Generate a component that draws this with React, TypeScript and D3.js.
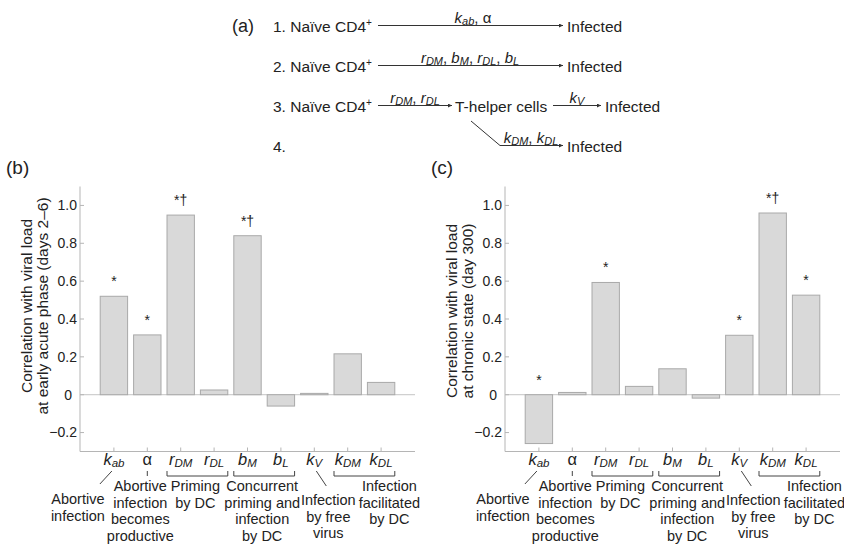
import React from 'react';
import * as d3 from 'd3';

// Parameters on the x axis (symbol + subscript)
const categories = ['kab', 'alpha', 'rDM', 'rDL', 'bM', 'bL', 'kV', 'kDM', 'kDL'];
const categorySymbols: [string, string][] = [
  ['k', 'ab'], ['α', ''], ['r', 'DM'], ['r', 'DL'], ['b', 'M'], ['b', 'L'], ['k', 'V'], ['k', 'DM'], ['k', 'DL'],
];

// (b) early acute phase, (c) chronic state
const acuteValues = [0.52, 0.316, 0.949, 0.025, 0.84, -0.06, 0.007, 0.216, 0.065];
const chronicValues = [-0.258, 0.012, 0.593, 0.044, 0.137, -0.018, 0.314, 0.96, 0.526];
const acuteMarks = ['*', '*', '*†', '', '*†', '', '', '', ''];
const chronicMarks = ['*', '', '*', '', '', '', '*', '*†', '*'];

const yTicks = [-0.2, 0, 0.2, 0.4, 0.6, 0.8, 1.0];
const acuteTitle = ['Correlation with viral load', 'at early acute phase (days 2–6)'];
const chronicTitle = ['Correlation with viral load', 'at chronic state (day 300)'];

const mechanismLabels = [
  ['Abortive', 'infection'],
  ['Abortive', 'infection', 'becomes', 'productive'],
  ['Priming', 'by DC'],
  ['Concurrent', 'priming and', 'infection', 'by DC'],
  ['Infection', 'by free', 'virus'],
  ['Infection', 'facilitated', 'by DC'],
];
const mechanismCats = [['kab'], ['alpha'], ['rDM', 'rDL'], ['bM', 'bL'], ['kV'], ['kDM', 'kDL']];

// layout for the mechanism labels (offset from group centre, first baseline)
const mechanismLayout = [
  { dx: -36, y: 504 },
  { dx: -7, y: 491 },
  { dx: -2, y: 491 },
  { dx: -2, y: 491 },
  { dx: 14, y: 505 },
  { dx: 25, y: 491 },
];

const FONT = '"Liberation Sans", Arial, Helvetica, sans-serif';
const INK = '#222';

type Tok = { t: string; it?: boolean; sub?: boolean };

// render tokens with italic/subscript pieces as tspans
function toTspans(tokens: Tok[], subSize: number, shift = 2.5) {
  let cur = 0;
  return tokens.map((tk, i) => {
    const want = tk.sub ? shift : 0;
    const dy = want - cur;
    cur = want;
    return (
      <tspan key={i} dy={dy || undefined} fontStyle={tk.it ? 'italic' : 'normal'} fontSize={tk.sub ? subSize : undefined}>
        {tk.t}
      </tspan>
    );
  });
}

function sym(main: string, sub: string): Tok[] {
  const out: Tok[] = [{ t: main, it: main !== 'α' }];
  if (sub) out.push({ t: sub, it: true, sub: true });
  return out;
}

function Panel({ x0, letter, values, marks, title, titleY }: {
  x0: number; letter: string; values: number[]; marks: string[]; title: string[]; titleY: number;
}) {
  const left = x0 + 80;
  const right = x0 + 415;
  const top = 186.5;
  const bottom = 451.5;

  const x = d3.scaleBand<string>().domain(categories).range([left, right])
    .paddingInner(0.18).paddingOuter(0.605).align(0.5);
  const y = d3.scaleLinear().domain([-0.3, 1.1]).range([bottom, top]);
  const bw = x.bandwidth();
  const cx = (c: string) => (x(c) as number) + bw / 2;

  return (
    <g>
      <text x={x0 + 6} y={174} fontSize={19} fill={INK}>{letter}</text>

      {/* y title */}
      {title.map((line, i) => (
        <text key={i} transform={`translate(${left - 48 + i * 16},${titleY}) rotate(-90)`}
          textAnchor="middle" fontSize={15.5} fill={INK}>{line}</text>
      ))}

      {/* axes */}
      <line x1={left} x2={left} y1={top} y2={bottom} stroke="#b5b5b5" />
      <line x1={left} x2={right} y1={bottom} y2={bottom} stroke="#b5b5b5" />
      <line x1={left} x2={right} y1={y(0)} y2={y(0)} stroke="#c4c4c4" />
      {yTicks.map(t => (
        <g key={t}>
          <line x1={left} x2={left + 4} y1={y(t)} y2={y(t)} stroke="#b5b5b5" />
          <text x={t === 0 ? left - 8 : left - 3} y={y(t)} dy="0.35em" textAnchor="end" fontSize={14} fill={INK}>
            {t === 0 ? '0' : t < 0 ? `−${Math.abs(t).toFixed(1)}` : t.toFixed(1)}
          </text>
        </g>
      ))}
      {categories.map(c => (
        <line key={c} x1={cx(c)} x2={cx(c)} y1={bottom} y2={bottom - 4} stroke="#b5b5b5" />
      ))}

      {/* bars */}
      {categories.map((c, i) => {
        const v = values[i];
        return (
          <rect key={c} x={x(c)} width={bw} y={y(Math.max(v, 0))}
            height={Math.abs(y(v) - y(0))} fill="#d9d9d9" stroke="#a9a9a9" strokeWidth={1} />
        );
      })}
      {categories.map((c, i) => marks[i] ? (
        <text key={c} x={cx(c)} y={y(Math.max(values[i], 0)) - 10} textAnchor="middle" fontSize={14} fill={INK}>
          {marks[i]}
        </text>
      ) : null)}

      {/* category symbols */}
      {categories.map((c, i) => (
        <text key={c} x={cx(c)} y={465} textAnchor="middle" fontSize={16.5} fill={INK}>
          {toTspans(sym(categorySymbols[i][0], categorySymbols[i][1]), 11.5, 2)}
        </text>
      ))}

      {/* connectors */}
      {mechanismCats.map((cats, i) => {
        if (cats.length === 2) {
          const a = x(cats[0]) as number;
          const b = (x(cats[1]) as number) + bw;
          return <path key={i} d={`M${a},471V476H${b}V471`} fill="none" stroke="#444" strokeWidth={1} />;
        }
        const c = cx(cats[0]);
        if (cats[0] === 'alpha') return <line key={i} x1={c} x2={c} y1={471} y2={476} stroke="#444" />;
        if (cats[0] === 'kab') return <line key={i} x1={c - 2} x2={c - 14} y1={471} y2={484} stroke="#444" />;
        return <line key={i} x1={c + 2} x2={c + 12} y1={471} y2={486} stroke="#444" />;
      })}

      {/* mechanism labels */}
      {mechanismLabels.map((lines, i) => {
        const cats = mechanismCats[i];
        const a = x(cats[0]) as number;
        const b = (x(cats[cats.length - 1]) as number) + bw;
        const mid = (a + b) / 2 + mechanismLayout[i].dx;
        return (
          <text key={i} textAnchor="middle" fontSize={14.5} fill={INK}>
            {lines.map((l, j) => (
              <tspan key={j} x={mid} y={mechanismLayout[i].y + j * 16.5}>{l}</tspan>
            ))}
          </text>
        );
      })}
    </g>
  );
}

function Arrow({ d }: { d: string }) {
  return <path d={d} fill="none" stroke="#333" strokeWidth={1} markerEnd="url(#head)" />;
}

function Schema() {
  const rows = [31.5, 71.5, 111.5, 151.5];
  const fs = 15.5;
  const naive = (n: number, yb: number) => (
    <text x={273} y={yb} fontSize={fs} fill={INK}>
      {`${n}. Naïve CD4`}
      <tspan dy={-6} fontSize={10}>+</tspan>
    </text>
  );
  const label = (cxp: number, yb: number, toks: Tok[]) => (
    <text x={cxp} y={yb} textAnchor="middle" fontSize={15} fill={INK}>{toTspans(toks, 11, 2.5)}</text>
  );
  const infected = (xp: number, yb: number) => (
    <text x={xp} y={yb} fontSize={fs} fill={INK}>Infected</text>
  );
  const sep: Tok = { t: ', ' };
  return (
    <g>
      <text x={232} y={32} fontSize={18} fill={INK}>(a)</text>

      {naive(1, rows[0])}
      <Arrow d={`M378,${rows[0] - 6}H563`} />
      {label(473, rows[0] - 9, [...sym('k', 'ab'), sep, { t: 'α' }])}
      {infected(567, rows[0])}

      {naive(2, rows[1])}
      <Arrow d={`M378,${rows[1] - 6}H563`} />
      {label(470, rows[1] - 9, [...sym('r', 'DM'), sep, ...sym('b', 'M'), sep, ...sym('r', 'DL'), sep, ...sym('b', 'L')])}
      {infected(567, rows[1])}

      {naive(3, rows[2])}
      <Arrow d={`M378,${rows[2] - 6}H452`} />
      {label(415, rows[2] - 9, [...sym('r', 'DM'), sep, ...sym('r', 'DL')])}
      <text x={455} y={rows[2]} fontSize={fs} fill={INK}>T-helper cells</text>
      <Arrow d={`M553,${rows[2] - 6}H601`} />
      {label(577, rows[2] - 9, sym('k', 'V'))}
      {infected(605, rows[2])}

      <text x={273} y={rows[3]} fontSize={fs} fill={INK}>4.</text>
      <Arrow d={`M471,121L500,${rows[3] - 6}H563`} />
      {label(531, rows[3] - 9, [...sym('k', 'DM'), sep, ...sym('k', 'DL')])}
      {infected(567, rows[3])}
    </g>
  );
}

export default function App() {
  return (
    <svg width={844} height={548} fontFamily={FONT}
      style={{ position: 'absolute', left: 0, top: 0, background: '#fff' }}>
      <defs>
        <marker id="head" viewBox="0 0 10 10" refX={10} refY={5} markerWidth={5} markerHeight={4}
          markerUnits="userSpaceOnUse" orient="auto">
          <path d="M0,0L10,5L0,10Z" fill="#333" />
        </marker>
      </defs>
      <rect width={844} height={548} fill="#fff" />
      <Schema />
      <Panel x0={0} letter="(b)" values={acuteValues} marks={acuteMarks} title={acuteTitle} titleY={306} />
      <Panel x0={425} letter="(c)" values={chronicValues} marks={chronicMarks} title={chronicTitle} titleY={311} />
    </svg>
  );
}
